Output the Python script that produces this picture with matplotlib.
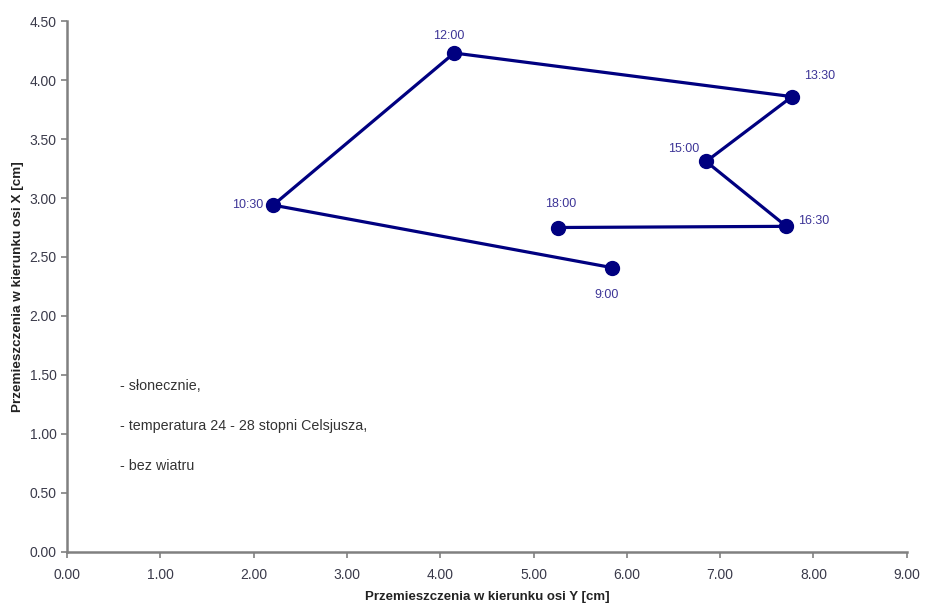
import matplotlib.pyplot as plt

plt.rcParams['font.family'] = ['Liberation Sans', 'DejaVu Sans']

# Przemieszczenia punktu w ciągu dnia
godziny = ['9:00', '10:30', '12:00', '13:30', '15:00', '16:30', '18:00']
przem_y = [5.84, 2.21, 4.15, 7.77, 6.85, 7.71, 5.26]
przem_x = [2.41, 2.94, 4.23, 3.86, 3.31, 2.76, 2.75]

# przesunięcia etykiet (punkty typograficzne) i wyrównanie
offsets = [(-4, -20), (-7, 0), (-4, 12), (20, 15), (-16, 9), (20, 4), (2, 17)]
align = ['center', 'right', 'center', 'center', 'center', 'center', 'center']

warunki = ['- słonecznie,', '- temperatura 24 - 28 stopni Celsjusza,', '- bez wiatru']
warunki_y = [1.41, 1.07, 0.73]

fig = plt.figure(figsize=(9.3, 6.05), dpi=100)
ax = fig.add_axes([0.072, 0.088, 0.903, 0.877])

ax.plot(przem_y, przem_x, color='#000080', lw=2.3, marker='o', ms=10,
        markerfacecolor='#000080', markeredgecolor='#000080')

for g, xv, yv, off, ha in zip(godziny, przem_y, przem_x, offsets, align):
    ax.annotate(g, (xv, yv), xytext=off, textcoords='offset points',
                ha=ha, va='center', fontsize=9, color='#3d3597')

for t, yv in zip(warunki, warunki_y):
    ax.text(0.57, yv, t, fontsize=10.3, color='#333333', va='center', ha='left')

ax.set_xlim(0, 9)
ax.set_ylim(0, 4.5)
ax.set_xticks([i for i in range(10)])
ax.set_xticklabels([f'{i:.2f}' for i in range(10)])
ax.set_yticks([i * 0.5 for i in range(10)])
ax.set_yticklabels([f'{i * 0.5:.2f}' for i in range(10)])

for s in ['top', 'right']:
    ax.spines[s].set_visible(False)
for s in ['left', 'bottom']:
    ax.spines[s].set_color('#808080')
    ax.spines[s].set_linewidth(1.8)
ax.tick_params(colors='#808080', labelcolor='#3a3a4a', labelsize=10,
               length=4, width=1.2, direction='out')
ax.tick_params(axis='x', pad=8)

ax.set_xlabel('Przemieszczenia w kierunku osi Y [cm]', fontsize=9.5,
              fontweight='bold', color='#222222', labelpad=6)
ax.set_ylabel('Przemieszczenia w kierunku osi X [cm]', fontsize=9.7,
              fontweight='bold', color='#222222', labelpad=4)

fig.savefig('out.png', dpi=100)
